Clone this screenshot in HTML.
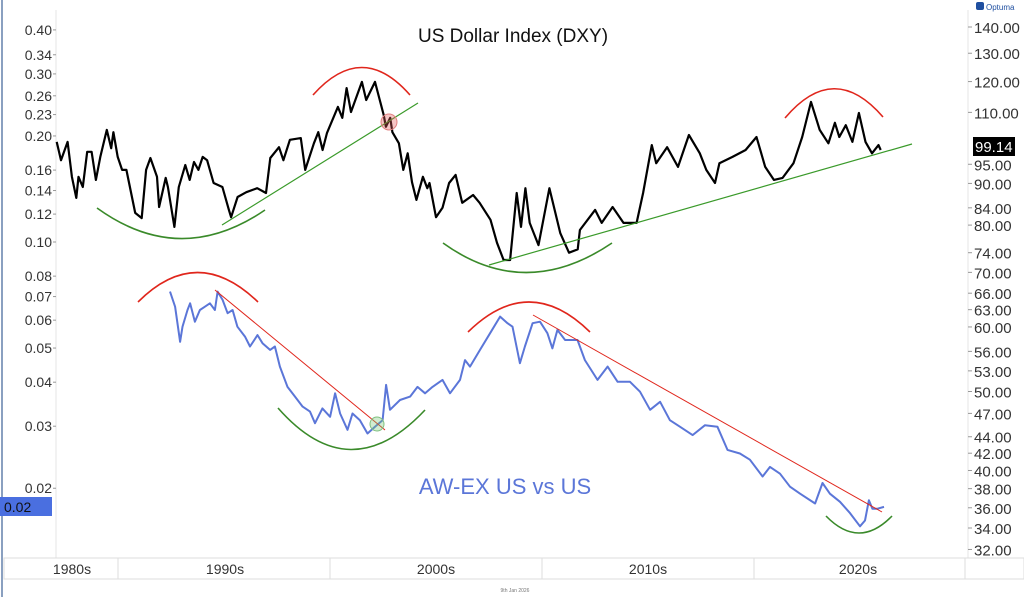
<!DOCTYPE html>
<html><head><meta charset="utf-8"><style>
body{margin:0;background:#fff;}
svg{display:block;font-family:"Liberation Sans",sans-serif;}
</style></head><body>
<svg id="chart" width="1024" height="597" viewBox="0 0 1024 597" xmlns="http://www.w3.org/2000/svg">
<rect x="0" y="0" width="1024" height="597" fill="#fff"/>
<line x1="2" y1="0" x2="2" y2="597" stroke="#8aa0c0" stroke-width="2"/>
<line x1="56" y1="10" x2="56" y2="558" stroke="#e4e4e4"/>
<line x1="968" y1="10" x2="968" y2="558" stroke="#e4e4e4"/>
<g id="leftAxis"></g>
<g id="rightAxis"></g>
<g>
<rect x="4" y="558" width="1020" height="21" fill="#fff" stroke="#ddd"/>
<g id="xAxis"></g>
</g>
<text x="513" y="42" font-size="19" text-anchor="middle" fill="#111">US Dollar Index (DXY)</text>
<text x="505" y="494" font-size="22" text-anchor="middle" fill="#5b76d8">AW-EX US vs US</text>
<path id="dxyLine" fill="none" stroke="#000" stroke-width="2.2" stroke-linejoin="round"/>
<path id="ratioLine" fill="none" stroke="#5b76d8" stroke-width="2" stroke-linejoin="round"/>
<g fill="none" stroke-width="1.6">
<path d="M97,208 Q180,268 265,210" stroke="#3a8a2a"/>
<path d="M313,95 Q362,40 410,95" stroke="#e0261c"/>
<line x1="222" y1="225" x2="418" y2="103" stroke="#3a9a2a" stroke-width="1.2"/>
<circle cx="389" cy="122" r="8" fill="rgba(230,90,90,0.35)" stroke="#e08080" stroke-width="1"/>
<path d="M443,243 Q525,302 612,243" stroke="#3a8a2a"/>
<line x1="489" y1="265" x2="912" y2="144" stroke="#3a9a2a" stroke-width="1.2"/>
<path d="M785,118 Q834,60 883,117" stroke="#e0261c"/>
<path d="M138,302 Q197,243 258,302" stroke="#e0261c"/>
<line x1="215" y1="290" x2="385" y2="430" stroke="#e0261c" stroke-width="1"/>
<path d="M278,408 Q350,490 425,410" stroke="#3a8a2a"/>
<circle cx="377" cy="424" r="7" fill="rgba(120,200,120,0.35)" stroke="#80c080" stroke-width="1"/>
<path d="M468,332 Q529,272 590,332" stroke="#e0261c"/>
<line x1="533" y1="315" x2="882" y2="512" stroke="#e0261c" stroke-width="1"/>
<path d="M826,516 Q859,550 892,516" stroke="#3a8a2a"/>
</g>
<rect x="973" y="137" width="42" height="19" fill="#000"/>
<text x="975" y="152" font-size="15" fill="#fff">99.14</text>
<rect x="0" y="497" width="52" height="19" fill="#4a6fe0"/>
<text x="4" y="512" font-size="14" fill="#111">0.02</text>
<rect x="976" y="2" width="8" height="8" rx="2" fill="#1f4fa0"/>
<text x="986" y="10" font-size="8" fill="#1f4fa0">Optuma</text>
<text x="515" y="592" font-size="5" fill="#777" text-anchor="middle">9th Jan 2026</text>
</svg>
<script>
const dxyYears=[1987.6,1987.8,1988.1,1988.3,1988.5,1988.6,1988.8,1989.0,1989.2,1989.4,1989.6,1989.9,1990.1,1990.2,1990.4,1990.6,1990.8,1991.2,1991.5,1991.7,1991.9,1992.2,1992.3,1992.6,1992.7,1993.0,1993.2,1993.5,1993.7,1993.9,1994.1,1994.3,1994.5,1994.8,1995.2,1995.5,1995.6,1995.9,1996.3,1996.8,1997.2,1997.4,1997.8,1998.0,1998.3,1998.8,1999.0,1999.4,1999.6,1999.8,2000.0,2000.5,2000.7,2000.9,2001.1,2001.6,2001.8,2002.2,2002.6,2002.7,2002.9,2003.0,2003.3,2003.5,2003.7,2003.9,2004.1,2004.4,2004.6,2004.7,2005.0,2005.3,2005.6,2005.9,2006.2,2006.7,2007.0,2007.5,2007.8,2008.1,2008.4,2008.7,2008.9,2009.1,2009.3,2009.7,2010.2,2010.7,2011.1,2011.5,2011.6,2012.3,2012.6,2013.1,2013.6,2014.2,2014.5,2014.9,2015.1,2015.6,2016.1,2016.6,2017.1,2017.4,2017.8,2018.0,2018.6,2019.2,2019.7,2020.1,2020.5,2020.9,2021.4,2021.8,2022.2,2022.6,2023.0,2023.3,2023.5,2023.8,2024.1,2024.4,2024.7,2025.0,2025.3,2025.4];
const dxyValues=[101.2,96.1,101.2,91.7,86.4,91.7,89.1,98.4,98.4,90.9,97,104.7,99.4,104,97,93.5,93.5,82.8,81.6,93.5,96.7,91.7,84.2,91.4,89.1,79.6,89.1,94.8,90.9,95.6,93.5,97,96.1,90.1,89.1,83.5,81.8,86.6,87.8,88.8,87.6,96.7,99.7,96.1,101.8,102.3,93.5,100.8,104,98.9,103.8,111.7,108.3,117.8,110.1,119.9,113.9,119.9,109.2,105.6,108.3,104,100.8,93.5,98,90.3,85.9,91.7,88.8,90.1,81.8,84,90.1,92.2,85.2,87.1,85.2,81.2,76.1,72.5,72.5,87.6,79.6,88.8,80.5,75.6,88.8,78.2,74,74.7,78.9,83.5,80.5,84.2,80.5,80.5,87.6,100.3,95.3,99.7,94.3,103.2,98,93.5,90.1,95.3,97,98.9,102.6,94.3,90.9,91.4,95.3,102.6,113.3,104.7,100.8,106.8,102.6,106.1,101.2,109.8,101.2,98,100.3,98.9];
const ratioYears=[1992.80,1993.03,1993.26,1993.37,1993.60,1993.72,1993.94,1994.17,1994.40,1994.63,1994.86,1994.98,1995.21,1995.44,1995.67,1995.89,1996.24,1996.47,1996.81,1997.04,1997.39,1997.61,1997.84,1998.19,1998.53,1998.88,1999.22,1999.45,1999.79,2000.14,2000.37,2000.60,2000.94,2001.17,2001.51,2001.86,2002.20,2002.55,2002.71,2002.89,2003.35,2003.81,2004.15,2004.50,2004.84,2005.30,2005.64,2006.10,2006.33,2006.56,2007.02,2007.48,2007.94,2008.28,2008.51,2008.85,2009.08,2009.43,2009.77,2010.11,2010.34,2010.57,2010.92,2011.49,2011.83,2012.41,2012.87,2013.33,2013.90,2014.36,2014.82,2015.28,2015.73,2016.19,2016.77,2017.34,2017.91,2018.37,2018.94,2019.40,2019.98,2020.32,2020.78,2021.24,2021.70,2022.39,2022.73,2023.07,2023.53,2023.99,2024.45,2024.68,2024.86,2025.02,2025.25,2025.55];
const ratioValues=[.0723,.0655,.0521,.0575,.0641,.0670,.0594,.0641,.0655,.0670,.0641,.0723,.0685,.0628,.0641,.0575,.0539,.0505,.0544,.0516,.0494,.0505,.0443,.0388,.0364,.0341,.0330,.0306,.0337,.0319,.0372,.0326,.0293,.0326,.0312,.0286,.0299,.0312,.0393,.0334,.0356,.0364,.0388,.0372,.0388,.0406,.0372,.0406,.0462,.0443,.0494,.0551,.0614,.0588,.0575,.0453,.0505,.0588,.0594,.0551,.0499,.0563,.0527,.0527,.0462,.0406,.0443,.0401,.0401,.0376,.0334,.0352,.0312,.0299,.0283,.0302,.0299,.0257,.0251,.0241,.0216,.0230,.0220,.0202,.0193,.0181,.0207,.0193,.0183,.0170,.0156,.0162,.0185,.0175,.0175,.0177];
const leftTicks=[0.40,0.34,0.30,0.26,0.23,0.20,0.16,0.14,0.12,0.10,0.08,0.07,0.06,0.05,0.04,0.03,0.02];
const rightTicks=[140,130,120,110,95,90,84,80,74,70,66,63,60,56,53,50,47,44,42,40,38,36,34,32];
const decadeLabels=["1980s","1990s","2000s","2010s","2020s"];

const NS="http://www.w3.org/2000/svg";
function xScale(yr){return 109+21.8*(yr-1990);}
function yLeft(v){return 242-153*Math.log(v/0.1);}
function yRight(v){return 27+354*Math.log(140/v);}
function pathFrom(xs,vs,fy){return xs.map((x,i)=>(i?'L':'M')+xScale(x).toFixed(1)+','+fy(vs[i]).toFixed(1)).join(' ');}
document.getElementById('dxyLine').setAttribute('d',pathFrom(dxyYears,dxyValues,yRight));
document.getElementById('ratioLine').setAttribute('d',pathFrom(ratioYears,ratioValues,yLeft));

const la=document.getElementById('leftAxis');
leftTicks.forEach(v=>{
  const y=yLeft(v);
  const t=document.createElementNS(NS,'text');
  
  
  t.setAttribute('x',52);t.setAttribute('y',y+5);t.setAttribute('text-anchor','end');
  t.setAttribute('font-size','14');t.setAttribute('fill','#333');
  t.textContent=v.toFixed(2);la.appendChild(t);
  const l=document.createElementNS(NS,'line');
  
  
  l.setAttribute('x1',53);l.setAttribute('x2',56);l.setAttribute('y1',y);l.setAttribute('y2',y);l.setAttribute('stroke','#999');
  la.appendChild(l);
});
const ra=document.getElementById('rightAxis');
rightTicks.forEach(v=>{
  const y=yRight(v);
  const t=document.createElementNS(NS,'text');
  
  
  t.setAttribute('x',974);t.setAttribute('y',y+6);
  t.setAttribute('font-size','15');t.setAttribute('fill','#333');
  t.textContent=v.toFixed(2);ra.appendChild(t);
  const l=document.createElementNS(NS,'line');
  
  
  l.setAttribute('x1',968);l.setAttribute('x2',972);l.setAttribute('y1',y);l.setAttribute('y2',y);l.setAttribute('stroke','#999');
  ra.appendChild(l);
});
const xa=document.getElementById('xAxis');
const seps=[118,330,542,754,965];
const centers=[72,225,436,648,858];
decadeLabels.forEach((s,i)=>{
  const t=document.createElementNS(NS,'text');
  
  
  t.setAttribute('x',centers[i]);t.setAttribute('y',574);t.setAttribute('text-anchor','middle');
  t.setAttribute('font-size','14');t.setAttribute('fill','#333');
  t.textContent=s;xa.appendChild(t);
});
seps.forEach(x=>{
  const l=document.createElementNS(NS,'line');
  
  
  l.setAttribute('x1',x);l.setAttribute('x2',x);l.setAttribute('y1',558);l.setAttribute('y2',579);l.setAttribute('stroke','#ddd');
  xa.appendChild(l);
});
</script>
</body></html>
